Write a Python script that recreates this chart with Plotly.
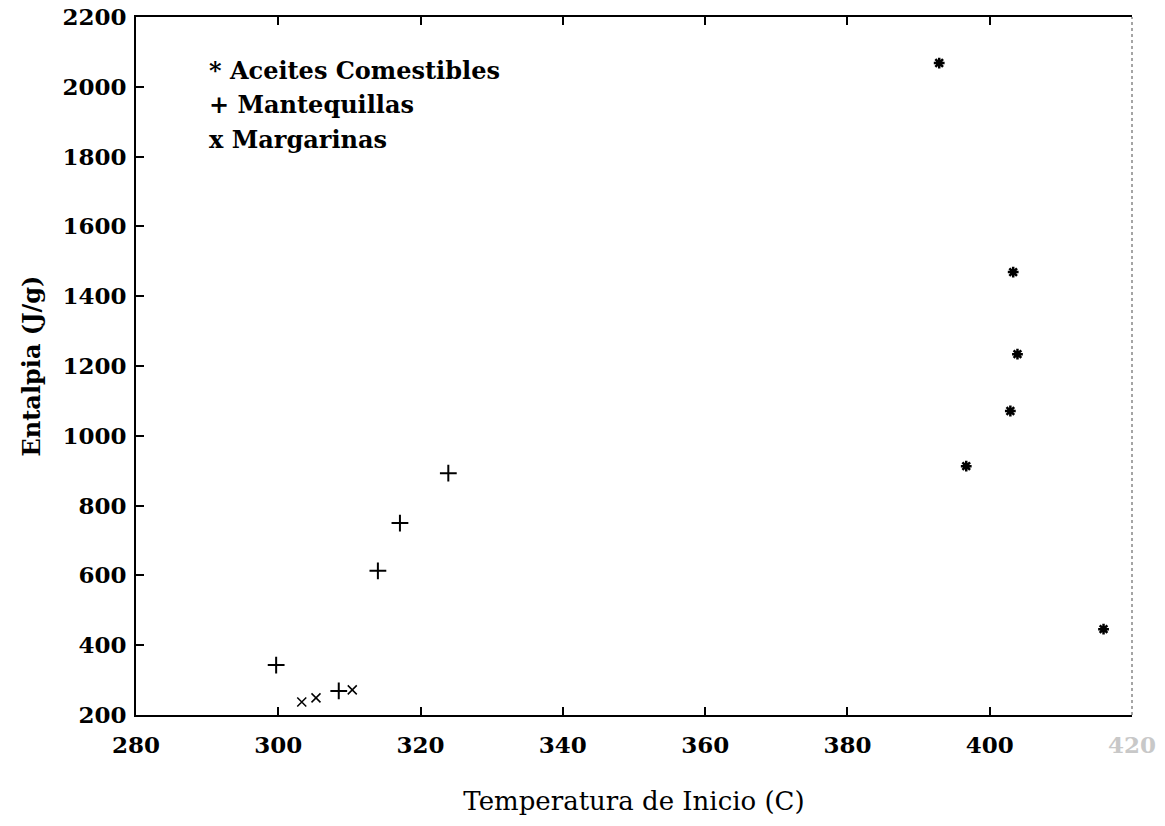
import plotly.graph_objects as go

# Data
aceites_x = [392.9, 403.3, 403.9, 402.9, 396.7, 416.0]
aceites_y = [2068, 1469, 1234, 1071, 913, 446]

mantequillas_x = [299.7, 308.5, 314.0, 317.1, 323.9]
mantequillas_y = [343, 269, 613, 750, 893]

margarinas_x = [303.3, 305.3, 310.4]
margarinas_y = [237, 249, 272]

x_ticks = [280, 300, 320, 340, 360, 380, 400, 420]
x_ticktext = ["280", "300", "320", "340", "360", "380", "400",
              "<span style='color:#c8c8c8'>420</span>"]
y_ticks = [200, 400, 600, 800, 1000, 1200, 1400, 1600, 1800, 2000, 2200]

legend_labels = ["* Aceites Comestibles", "+ Mantequillas", "x Margarinas"]

FONT = "DejaVu Serif"

fig = go.Figure()
fig.add_trace(go.Scatter(
    x=aceites_x, y=aceites_y, mode="markers", name="Aceites Comestibles",
    marker=dict(symbol="asterisk-open", size=9, color="black",
                line=dict(color="black", width=2.5)),
    showlegend=False))
fig.add_trace(go.Scatter(
    x=mantequillas_x, y=mantequillas_y, mode="markers", name="Mantequillas",
    marker=dict(symbol="cross-thin-open", size=12, color="black",
                line=dict(color="black", width=2)),
    showlegend=False))
fig.add_trace(go.Scatter(
    x=margarinas_x, y=margarinas_y, mode="markers", name="Margarinas",
    marker=dict(symbol="x-thin-open", size=9, color="black",
                line=dict(color="black", width=1.5)),
    showlegend=False))

# legend drawn as text, as in the reference
leg_y = [0.924, 0.875, 0.825]
for lbl, yy in zip(legend_labels, leg_y):
    fig.add_annotation(
        text=lbl, xref="paper", yref="paper", x=0.071, y=yy,
        xanchor="left", yanchor="middle", showarrow=False,
        font=dict(family=FONT, size=24, color="black", weight="bold"))

# dotted right border
fig.add_shape(type="line", xref="paper", yref="paper", x0=1, x1=1, y0=0, y1=1,
              line=dict(color="#888888", width=1.5, dash="dot"))

fig.update_layout(
    width=1165, height=826,
    margin=dict(l=136, r=33, t=17, b=111),
    paper_bgcolor="white", plot_bgcolor="white",
    font=dict(family=FONT, color="black"),
    xaxis=dict(
        range=[280, 420], tickvals=x_ticks, ticktext=x_ticktext,
        automargin=False, ticklabeloverflow="allow",
        showgrid=False, zeroline=False,
        showline=True, linecolor="black", linewidth=2, mirror="ticks",
        ticks="inside", ticklen=8, tickwidth=1.5, tickcolor="black",
        ticklabelstandoff=8,
        tickfont=dict(family=FONT, size=23, color="black", weight="bold"),
        title=dict(text="Temperatura de Inicio (C)", standoff=35,
                   font=dict(family=FONT, size=26, color="black"))),
    yaxis=dict(
        range=[200, 2200], tickvals=y_ticks,
        automargin=False, ticklabeloverflow="allow",
        showgrid=False, zeroline=False,
        showline=True, linecolor="black", linewidth=2, mirror=False,
        ticks="inside", ticklen=8, tickwidth=1.5, tickcolor="black",
        ticklabelstandoff=3,
        tickfont=dict(family=FONT, size=23, color="black", weight="bold"),
        title=dict(text="Entalpia (J/g)", standoff=15,
                   font=dict(family=FONT, size=24, color="black", weight="bold"))),
)

fig.write_html("out.html",
               config={"displayModeBar": False},
               post_script="document.body.style.margin='0';document.body.style.overflow='hidden';")
